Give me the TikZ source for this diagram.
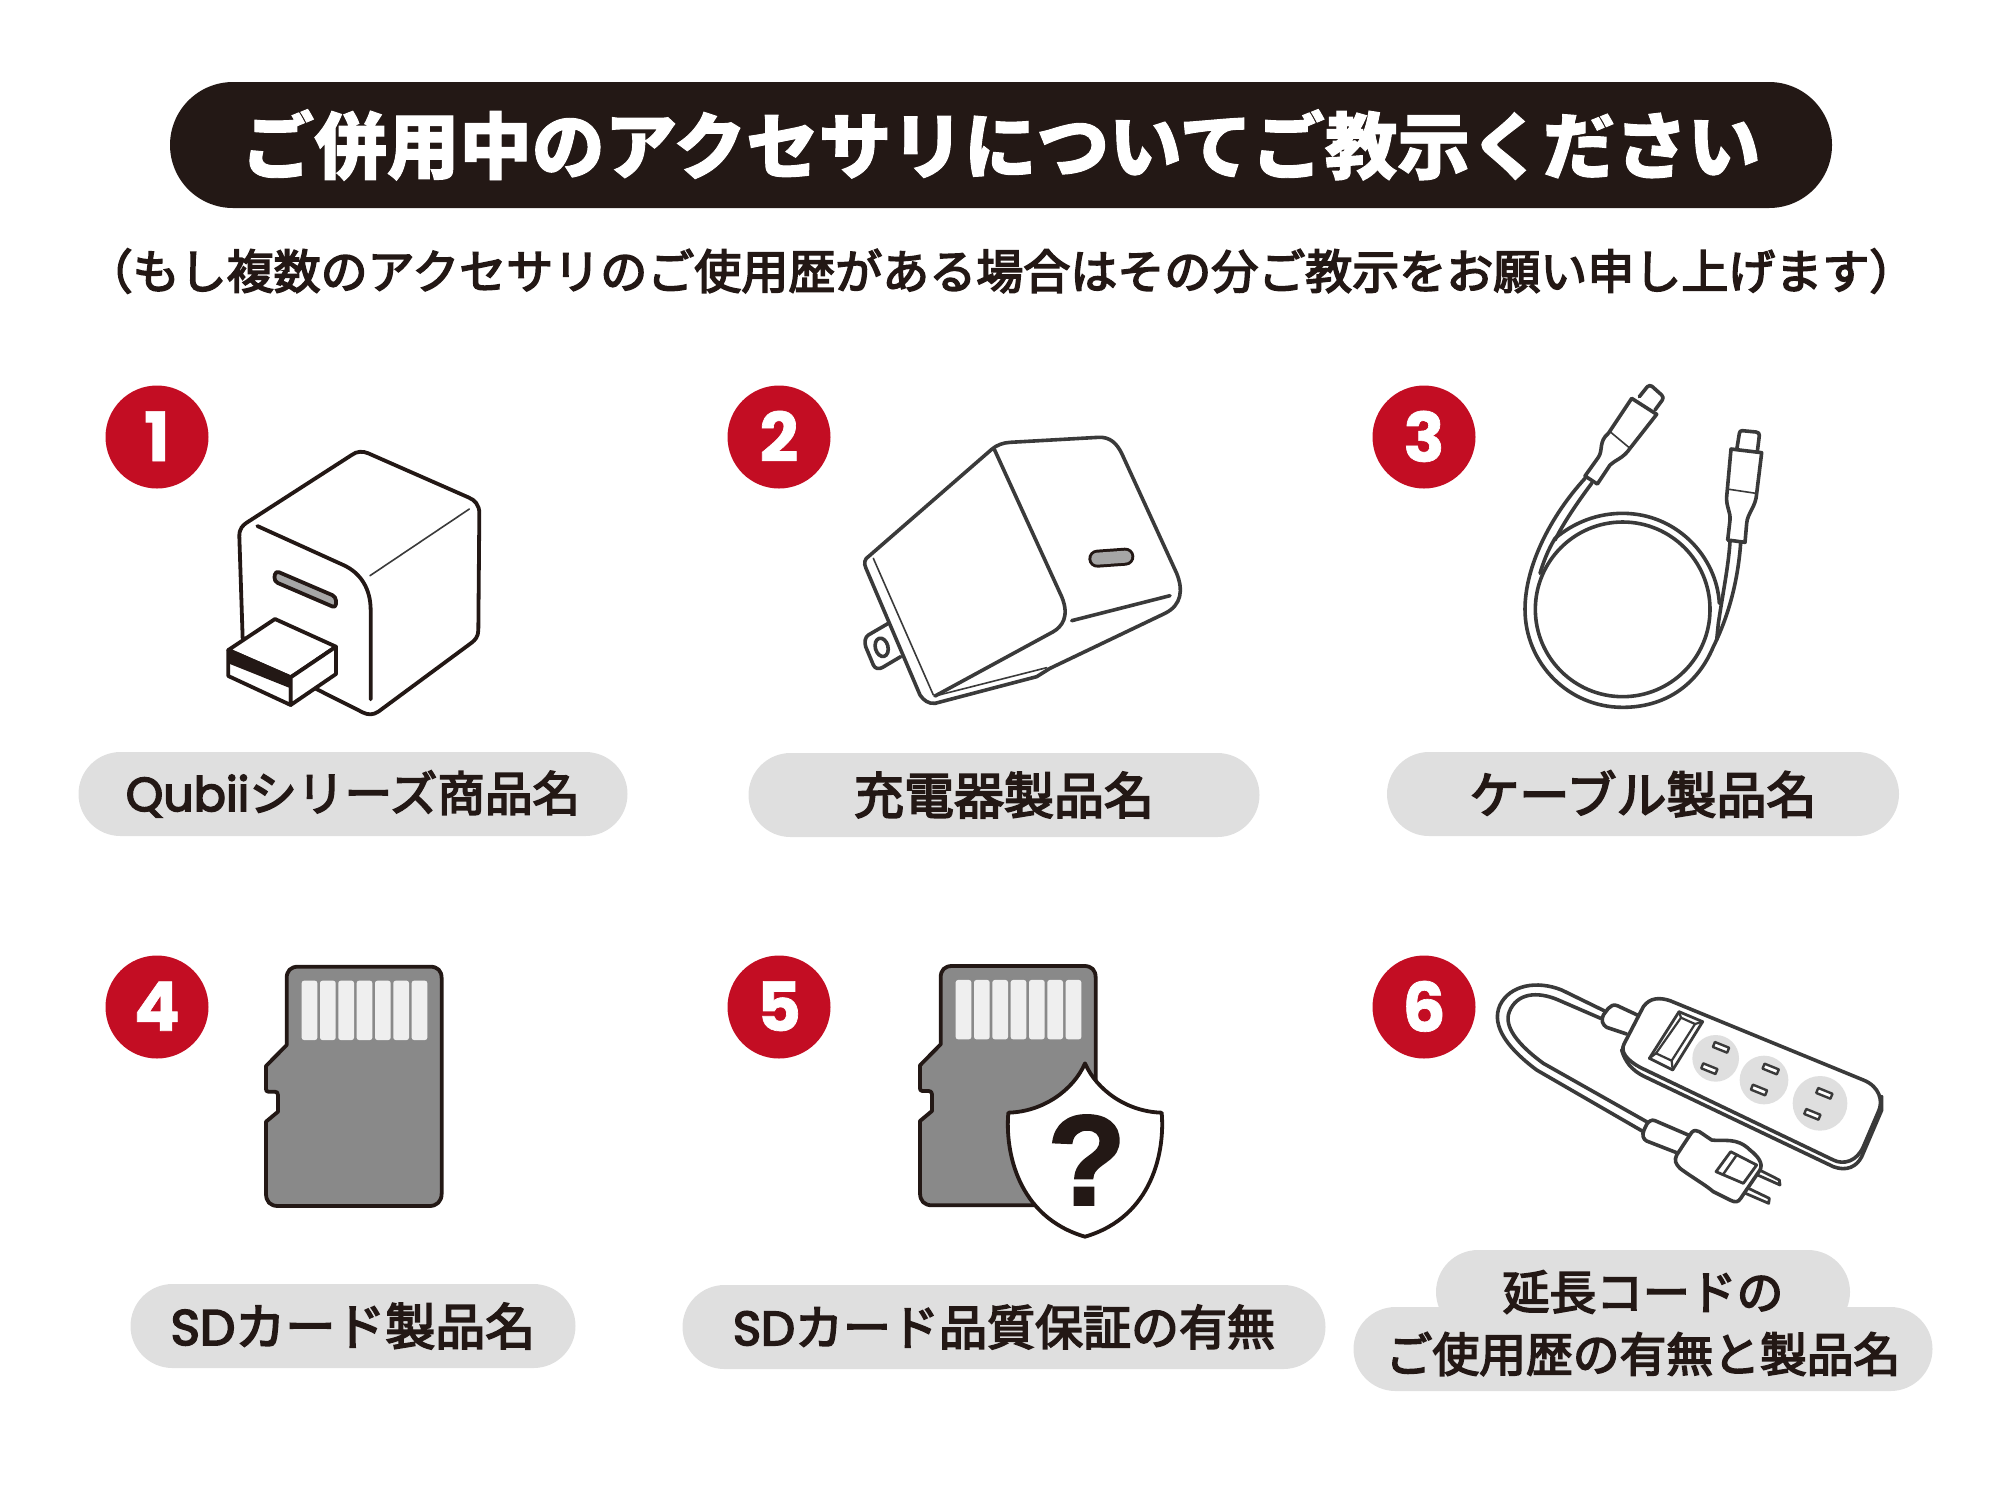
\documentclass[tikz,border=0pt]{standalone}
\usepackage{fontspec}
\setmainfont[FakeBold=3.5]{Noto Sans CJK JP}
\newfontfamily\cjkheavy[BoldFeatures={FakeBold=1.3}]{Noto Sans CJK JP}
\newfontfamily\latinfont[FakeBold=3.5]{Poppins}
\newfontfamily\numfont[BoldFeatures={FakeBold=1}]{Poppins}
\newfontfamily\markfont[BoldFeatures={FakeBold=2}]{Liberation Sans}
\definecolor{inkblack}{HTML}{231815}
\definecolor{inkgrey}{HTML}{3A3A3A}
\definecolor{badgered}{HTML}{C30D23}
\definecolor{pillgrey}{HTML}{DFDFDF}
\definecolor{cardgrey}{HTML}{898989}
\definecolor{padgrey}{HTML}{EFEFEF}
\definecolor{slotgrey}{HTML}{A6A6A6}
\tikzset{
  badge/.style={circle,fill=badgered,text=white,minimum size=51.5pt,inner sep=0pt,font=\numfont\bfseries\fontsize{34}{34}\selectfont},
  pill/.style={fill=pillgrey,rounded corners=21pt,minimum height=42pt,inner sep=0pt,text=inkblack,font=\fontsize{25}{25}\selectfont},
  pilltext/.style={inner sep=0pt,text=inkblack,font=\fontsize{23.4}{23.4}\selectfont},
  inkline/.style={draw=inkblack,line width=1.9pt,line join=round,line cap=round},
  greyline/.style={draw=inkgrey,line width=1.8pt,line join=round,line cap=round},
  thinline/.style={draw=inkgrey,line width=0.8pt,line cap=round}
}
\begin{document}
\begin{tikzpicture}[x=0.5pt,y=0.5pt,yscale=-1,xscale=1]
\useasboundingbox (0,0) rectangle (2001,1501);

% Title
\draw (1001,145) node (titlebar) [fill=inkblack,rounded corners=31.5pt,minimum width=831pt,minimum height=63pt,inner sep=0pt,text=white,font=\cjkheavy\bfseries\fontsize{36.3}{36.3}\selectfont] {ご併用中のアクセサリについてご教示ください};
\draw (1001,271) node (subtitle) [inner sep=0pt,text=inkblack,font=\fontsize{23.5}{23.5}\selectfont] {（もし複数のアクセサリのご使用歴がある場合はその分ご教示をお願い申し上げます）};

% Number badges
\foreach \n/\bx/\by in {1/157/437,2/779/437,3/1424/437,4/157/1007,5/779/1007,6/1424/1007}
  \draw (\bx,\by) node (badge\n) [badge] {\raisebox{0.8pt}{\n}};

% Labels
\draw (353,794) node (labelqubii) [pill,minimum width=274.5pt,font=\fontsize{23.8}{23.8}\selectfont] {{\latinfont Qubii}シリーズ商品名};
\draw (1004,795) node (labelcharger) [pill,minimum width=255.5pt] {充電器製品名};
\draw (1643,794) node (labelcable) [pill,minimum width=256pt] {ケーブル製品名};
\draw (353,1326) node (labelsd) [pill,minimum width=222.5pt] {{\latinfont SD}カード製品名};
\draw (1004,1327) node (labelwarranty) [pill,minimum width=321.5pt,font=\fontsize{24}{24}\selectfont] {{\latinfont SD}カード品質保証の有無};
\draw (1643,1292) node (labelcordtop) [pill,minimum width=207pt] {};
\draw (1643,1349) node (labelcordbottom) [pill,minimum width=289.5pt] {};
\draw (1643,1292) node (textcordtop) [pilltext] {延長コードの};
\draw (1643,1354) node (textcordbottom) [pilltext] {ご使用歴の有無と製品名};

% Qubii adapter
\begin{scope}[shift={(200,420)},scale=1/3]
\draw [inkline] (128,655) -- (118,350) .. controls (117,325) and (130,315) .. (140,308) -- (455,105) .. controls (470,93) and (490,93) .. (505,100) -- (805,232) .. controls (825,240) and (838,255) .. (838,280) -- (835,630) .. controls (835,650) and (825,660) .. (815,668) -- (535,875) .. controls (520,885) and (505,885) .. (490,878) -- (345,805);
\draw [inkline] (172,318) -- (430,435) .. controls (485,460) and (512,510) .. (512,570) -- (512,838);
\draw [thinline] (510,467) -- (808,267);
\draw [inkline,fill=slotgrey,rounded corners=2pt] (226,452) -- (408,530) -- (408,564) -- (222,484) -- cycle;
% plug
\draw [inkline,fill=white] (225,597) -- (408,680) -- (272,772) -- (85,690) -- cycle;
\draw [inkline,fill=white] (85,690) -- (272,772) -- (272,855) -- (85,768) -- cycle;
\draw [inkline,fill=white] (272,772) -- (408,680) -- (408,762) -- (272,855) -- cycle;
\fill [inkblack] (85,690) -- (272,772) -- (272,805) -- (85,730) -- cycle;
\end{scope}

% Charger
\begin{scope}[shift={(840,420)},scale=1/3]
\draw [greyline,fill=white] (145,610) -- (85,645) .. controls (75,652) and (73,665) .. (77,680) -- (100,735) .. controls (105,747) and (118,748) .. (128,742) -- (182,710);
\draw [greyline] (125,682) ellipse [x radius=19,y radius=28,rotate=-15];
\draw [greyline] (85,410) -- (455,88) .. controls (470,75) and (490,68) .. (510,67) -- (775,52) .. controls (810,50) and (830,70) .. (845,100) -- (1010,460) .. controls (1030,510) and (1025,555) .. (975,580) -- (630,745) -- (590,770) -- (285,850) .. controls (265,852) and (250,840) .. (240,825) -- (78,445) .. controls (70,430) and (75,415) .. (85,410);
\draw [greyline] (463,88) -- (665,530) .. controls (690,590) and (665,620) .. (640,635) -- (285,828);
\draw [thinline] (100,415) -- (280,825);
\draw [thinline] (285,828) -- (620,743);
\draw [greyline] (695,602) -- (990,527);
\draw [line width=9pt,line cap=round,draw=inkblack] (772,416) -- (856,410);
\draw [line width=6pt,line cap=round,draw=slotgrey] (772,416) -- (856,410);
\end{scope}

% Cable
\begin{scope}[shift={(1500,370)},scale=1/3]
\draw [greyline] (368,718) circle (262);
\draw [greyline] (255,325) .. controls (150,440) and (75,590) .. (75,718) .. controls (75,880) and (205,1012) .. (368,1012) .. controls (490,1012) and (590,950) .. (640,830) .. controls (690,730) and (715,620) .. (722,518);
\draw [greyline] (275,340) .. controls (230,400) and (190,460) .. (165,510);
\draw [greyline] (120,610) .. controls (135,560) and (150,530) .. (165,505) .. controls (225,455) and (295,430) .. (368,430) .. controls (530,430) and (650,560) .. (658,700);
\draw [greyline] (690,515) .. controls (685,590) and (670,660) .. (655,760) -- (650,810);
% upper connector
\draw [greyline] (418,80) -- (442,50) .. controls (446,46) and (452,46) .. (456,49) -- (485,75) .. controls (490,80) and (490,85) .. (487,90) -- (465,120);
\draw [greyline,fill=white] (395,85) -- (470,133) -- (390,235) .. controls (370,265) and (345,270) .. (330,285) -- (292,342) -- (255,318) -- (295,262) .. controls (310,240) and (295,215) .. (325,190) -- cycle;
\draw [thinline] (330,185) -- (390,235);
% right connector
\draw [greyline] (710,240) -- (718,190) .. controls (719,184) and (722,182) .. (727,182) -- (768,186) .. controls (775,187) and (778,190) .. (778,196) -- (772,245);
\draw [greyline,fill=white] (693,237) -- (785,248) -- (770,370) .. controls (768,410) and (742,430) .. (740,460) -- (735,517) -- (683,510) -- (690,450) .. controls (692,425) and (678,410) .. (680,380) -- cycle;
\draw [thinline] (688,358) -- (768,370);
\end{scope}

% Memory cards
\foreach \cx/\cy in {250/950,904/949.3} {
\begin{scope}[shift={(\cx,\cy)},scale=1/3]
\draw [inkline,fill=cardgrey] (110,285) -- (110,85) .. controls (110,62) and (122,50) .. (145,50) -- (540,50) .. controls (563,50) and (575,62) .. (575,85) -- (575,730) .. controls (575,755) and (560,768) .. (538,768) -- (85,768) .. controls (60,768) and (48,755) .. (48,730) -- (48,515) -- (84,485) -- (84,435) .. controls (84,428) and (80,425) .. (74,425) -- (55,425) .. controls (50,425) and (48,422) .. (48,417) -- (48,348) -- cycle;
\foreach \i in {0,...,6}
  \fill [padgrey,rounded corners=1.2pt] (155+55*\i,92) rectangle (202+55*\i,270);
\end{scope}
}

% Shield
\begin{scope}[shift={(900,950)},scale=1/3]
\draw [inkline,fill=white] (555,340) .. controls (590,420) and (680,485) .. (785,488) .. controls (795,600) and (760,800) .. (555,860) .. controls (350,800) and (315,600) .. (325,488) .. controls (430,485) and (520,420) .. (555,340) -- cycle;
\draw (560,630) node (question) [inner sep=0pt,text=inkblack,font=\markfont\bfseries\fontsize{64}{64}\selectfont] {?};
\end{scope}

% Power strip
\begin{scope}[shift={(1480,970)},scale=1/3]
% cord
\draw [greyline] (372,122) -- (245,60) .. controls (170,30) and (90,45) .. (60,105) .. controls (30,170) and (90,240) .. (170,300) -- (490,485);
\draw [greyline] (362,145) -- (235,90) .. controls (170,62) and (110,70) .. (88,125) .. controls (70,170) and (115,225) .. (190,280) -- (505,458);
\draw [greyline,fill=white] (472,135) -- (412,107) .. controls (400,102) and (392,108) .. (385,115) -- (370,135) .. controls (362,150) and (368,165) .. (380,172) -- (440,192);
\draw [greyline,fill=white] (625,495) -- (525,452) .. controls (515,447) and (505,455) .. (500,463) -- (492,480) .. controls (485,495) and (490,508) .. (500,513) -- (595,550);
% plug
\draw [greyline,line width=1.4pt] (835,598) -- (898,630) -- (900,645) -- (815,607);
\draw [greyline,line width=1.4pt] (795,650) -- (868,685) -- (866,700) -- (785,665);
\draw [greyline,fill=white] (635,487) .. controls (642,480) and (650,480) .. (658,485) -- (695,510) .. controls (730,515) and (770,500) .. (810,540) .. controls (835,560) and (850,580) .. (840,600) -- (782,685) .. controls (775,697) and (765,698) .. (750,690) -- (700,665) .. controls (670,640) and (640,625) .. (600,595) .. controls (585,580) and (583,570) .. (590,555) -- cycle;
\draw [greyline,line width=1.4pt] (752,545) -- (708,605) -- (790,640) -- (830,585) -- cycle;
\draw [greyline,line width=1.2pt] (770,555) -- (728,615);
% body
\draw [greyline,fill=white] (425,240) .. controls (435,275) and (455,300) .. (490,318) -- (1060,590) .. controls (1100,605) and (1130,590) .. (1145,560) -- (1205,420) -- (1205,380) -- (1100,400) -- cycle;
\draw [greyline,fill=white] (432,222) -- (490,110) .. controls (510,82) and (540,82) .. (570,92) -- (1150,330) .. controls (1200,350) and (1210,395) .. (1195,425) -- (1150,530) .. controls (1130,575) and (1090,585) .. (1060,570) -- (480,292) .. controls (440,270) and (420,245) .. (432,222) -- cycle;
% switch
\draw [greyline,line width=1.4pt] (597,125) -- (668,155) -- (578,300) -- (508,265) -- cycle;
\draw [greyline,line width=1.1pt] (603,143) -- (645,162) -- (575,272) -- (528,250) -- cycle;
\draw [greyline,line width=1.1pt] (597,125) -- (603,143) (668,155) -- (645,162) (578,300) -- (575,272) (508,265) -- (528,250);
% sockets
\foreach \ox/\oy/\orad in {707/265/70,852/330/73,1020/400/82}
  \fill [pillgrey] (\ox,\oy) circle (\orad);
\foreach \sx/\sy in {723/232,688/296,872/297,837/360,1033/370,997/433}
  \draw [greyline,line width=1.2pt,fill=white,rotate around={22:(\sx,\sy)}] (\sx-23,\sy-8) rectangle (\sx+23,\sy+8);
\end{scope}

\end{tikzpicture}
\end{document}
